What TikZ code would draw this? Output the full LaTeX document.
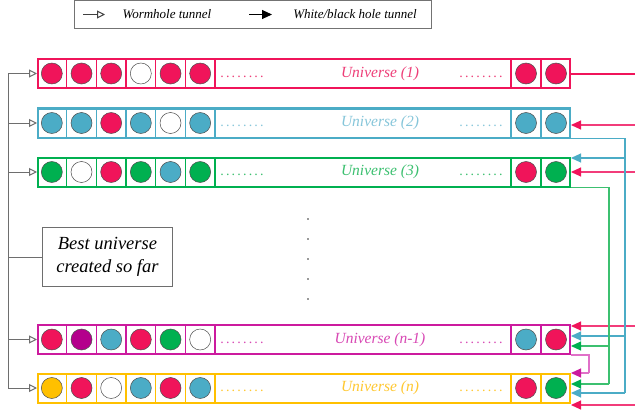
\documentclass[tikz,border=0pt]{standalone}
\usepackage{fontspec}
\setmainfont{Liberation Serif}
\usetikzlibrary{arrows.meta,calc}
\definecolor{cpink}{HTML}{F0145A}
\definecolor{cpinkl}{HTML}{F23C7A}
\definecolor{cpinkt}{HTML}{EE3E78}
\definecolor{cblue}{HTML}{4BACC6}
\definecolor{cbluet}{HTML}{86C6DA}
\definecolor{cgreen}{HTML}{00B050}
\definecolor{cgreenl}{HTML}{3CC070}
\definecolor{cgreent}{HTML}{3CC070}
\definecolor{cmag}{HTML}{CC1A9E}
\definecolor{cmagl}{HTML}{E070C8}
\definecolor{cmagt}{HTML}{D848B4}
\definecolor{cpurp}{HTML}{B4008C}
\definecolor{cyel}{HTML}{FFC000}
\definecolor{cyelt}{HTML}{FFC830}
\definecolor{cgray}{HTML}{6E6E6E}
\newcommand\mydots{.\kern2.2pt.\kern2.2pt.\kern2.2pt.\kern2.2pt.\kern2.2pt.\kern2.2pt.\kern2.2pt.}
\tikzset{
  rowbox/.style={rectangle, line width=2pt, minimum width=532pt, minimum height=29pt, inner sep=0pt},
  cellline/.style={line width=1.5pt},
  ball/.style={circle, draw=black!70, line width=0.5pt, minimum size=21pt, inner sep=0pt},
  utext/.style={font=\fontsize{15.5}{17}\selectfont\itshape, inner sep=0pt},
  dotstext/.style={font=\fontsize{14}{16}\selectfont, inner sep=0pt},
  gline/.style={draw=cgray, line width=1pt},
  wormtip/.style={-{Triangle[open, length=8pt, width=8pt]}},
  bhtip/.style={-{Triangle[length=10pt, width=9pt]}},
  bestbox/.style={draw=cgray, line width=1pt, rectangle, minimum width=130pt, minimum height=59pt, align=center, font=\fontsize{18.5}{23}\selectfont\itshape, inner sep=0pt},
  legtext/.style={font=\fontsize{13}{14}\selectfont\itshape, inner sep=0pt},
  legbox/.style={draw=black!55, line width=1pt, rectangle, minimum width=357pt, minimum height=28pt, inner sep=0pt},
  conn/.style={line width=1.1pt},
}
\newcommand\urow[7]{%
  \node[rowbox, draw=#3] (#1) at (304,#2) {};
  \foreach \k in {1,...,6} {\draw[cellline, #3] (37+29.667*\k, #2-14.5) -- ++(0,29);}
  \draw[cellline, #3] (511, #2-14.5) -- ++(0,29);
  \draw[cellline, #3] (541, #2-14.5) -- ++(0,29);
  \node[rowbox, draw=#3] at (304,#2) {};
  \foreach \c [count=\k] in {#6} {\node[ball, fill=\c] (#1c\k) at (37+29.667*\k-14.83, #2) {};}
  \foreach \c [count=\k] in {#7} {\node[ball, fill=\c] (#1r\k) at (511+30*\k-15, #2) {};}
  \node[utext, text=#4] (#1t) at (380,#2) {#5};
  \node[dotstext, text=#4] (#1d1) at (242,#2+3) {\mydots};
  \node[dotstext, text=#4] (#1d2) at (481,#2+3) {\mydots};
}
\begin{document}
\begin{tikzpicture}[x=1pt,y=-1pt]
\useasboundingbox (0,0) rectangle (635,412);
\fill[white] (0,0) rectangle (635,412);

% legend
\node[legbox] (leg) at (253,14.75) {};
\coordinate (la1) at (83,14.5);
\coordinate (lb1) at (105,14.5);
\draw[gline, draw=black!75, wormtip] (la1) -- (lb1);
\node[legtext] (lt1) at (167,14.5) {Wormhole tunnel};
\coordinate (la2) at (249,14.5);
\coordinate (lb2) at (272,14.5);
\draw[gline, draw=black, bhtip] (la2) -- (lb2);
\node[legtext] (lt2) at (355,14.5) {White/black hole tunnel};

% rows
\urow{u1}{73.5}{cpink}{cpinkt}{Universe (1)}{cpink,cpink,cpink,white,cpink,cpink}{cpink,cpink}
\urow{u2}{123}{cblue}{cbluet}{Universe (2)}{cblue,cblue,cpink,cblue,white,cblue}{cblue,cblue}
\urow{u3}{172}{cgreen}{cgreent}{Universe (3)}{cgreen,white,cpink,cgreen,cblue,cgreen}{cpink,cgreen}
\urow{un1}{339.5}{cmag}{cmagt}{Universe (n-1)}{cpink,cpurp,cblue,cpink,cgreen,white}{cblue,cpink}
\urow{un}{388}{cyel}{cyelt}{Universe (n)}{cyel,cpink,white,cblue,cpink,cblue}{cpink,cgreen}

% vertical dots
\foreach \yy [count=\k] in {219,239,259,279,299} {\fill[black!80] (308,\yy) circle (0.8pt);}

% wormhole tunnels (left)
\coordinate (spine) at (8,0);
\draw[gline] (spine |- u1.west) -- (spine |- un.west);
\foreach \r in {u1,u2,u3,un1,un} {\draw[gline, wormtip] (spine |- \r.west) -- (\r.west);}
\node[bestbox] (best) at (107.5,257) {Best universe\\created so far};
\draw[gline] (spine |- best.west) -- (best.west);

% pink tunnels (from Universe 1)
\coordinate (px) at (635,0);
\coordinate (p1) at ($(u1.east)+(0,0.5)$);
\draw[conn, draw=cpink] (p1) -- (px |- p1);
\coordinate (p2) at ($(u2.east)+(0,2)$);
\coordinate (p3) at ($(u3.east)+(0,0)$);
\coordinate (p4) at ($(un1.east)+(0,-13.5)$);
\coordinate (p5) at ($(un.east)+(0,17)$);
\foreach \p in {p2,p3,p4,p5} {\draw[conn, draw=cpinkl, -{Triangle[length=10pt,width=9pt,fill=cpink,color=cpink]}] (px |- \p) -- (\p);}

% blue tunnels (from Universe 2)
\coordinate (bx) at (625,0);
\coordinate (b3) at ($(u3.east)+(0,-14)$);
\coordinate (b4) at ($(un1.east)+(0,-3.5)$);
\coordinate (b5) at ($(un.east)+(0,5)$);
\draw[conn, draw=cblue] (u2.south east) -- (bx |- u2.south east) -- (bx |- b5);
\foreach \p in {b3,b4,b5} {\draw[conn, draw=cblue, -{Triangle[length=10pt,width=9pt,fill=cblue,color=cblue]}] (bx |- \p) -- (\p);}

% green tunnels (from Universe 3)
\coordinate (gx) at (609,0);
\coordinate (g4) at ($(un1.east)+(0,6.5)$);
\coordinate (g5) at ($(un.east)+(0,-4)$);
\draw[conn, draw=cgreenl] (u3.south east) -- (gx |- u3.south east) -- (gx |- g5);
\foreach \p in {g4,g5} {\draw[conn, draw=cgreenl, -{Triangle[length=10pt,width=9pt,fill=cgreen,color=cgreen]}] (gx |- \p) -- (\p);}

% magenta tunnel (from Universe n-1)
\coordinate (mx) at (589,0);
\coordinate (m5) at ($(un.east)+(0,-15)$);
\draw[conn, draw=cmagl] (un1.south east) -- (mx |- un1.south east) -- (mx |- m5);
\draw[conn, draw=cmagl, -{Triangle[length=10pt,width=9pt,fill=cmag,color=cmag]}] (mx |- m5) -- (m5);
\end{tikzpicture}
\end{document}
